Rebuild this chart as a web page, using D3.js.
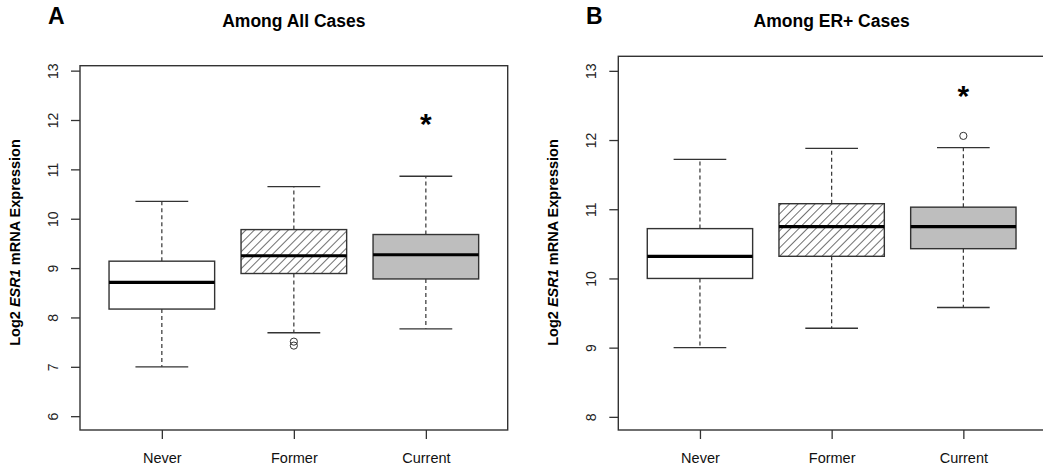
<!DOCTYPE html>
<html lang="en">
<head>
<meta charset="utf-8">
<title>ESR1 expression by smoking status</title>
<script src="https://d3js.org/d3.v7.min.js"></script>
<style>
  body { margin: 0; background: #fff; }
  svg { font-family: "Liberation Sans", Arial, sans-serif; }
</style>
</head>
<body>
<script>

// Smoking status groups
var categories = ["Never", "Former", "Current"];

// Five-number summaries: [lower whisker, Q1, median, Q3, upper whisker]
var allCasesStats = [
  [7.00, 8.17, 8.71, 9.14, 10.35],
  [7.69, 8.89, 9.25, 9.78, 10.65],
  [7.77, 8.78, 9.27, 9.68, 10.86]
];
var allCasesOutliers = [[], [7.51, 7.43], []];

var erCasesStats = [
  [9.00, 10.00, 10.32, 10.72, 11.72],
  [9.28, 10.32, 10.75, 11.08, 11.88],
  [9.58, 10.43, 10.75, 11.03, 11.89]
];
var erCasesOutliers = [[], [], [12.06]];

// y axis tick labels
var allTicks = [6, 7, 8, 9, 10, 11, 12, 13];
var erTicks = [8, 9, 10, 11, 12, 13];

// significance marker: group index and height
var allStar = { group: 2, y: 12.0 };
var erStar = { group: 2, y: 12.7 };

// box fills: plain, hatched, grey
var fills = ["#ffffff", "url(#hatch)", "#bebebe"];

var W = 1043, H = 472;
var ink = "#333";

var svg = d3.select("body")
            .append("svg")
            .attr("width", W)
            .attr("height", H);

// diagonal hatching for the "Former" boxes
var pat = svg.append("defs")
             .append("pattern")
             .attr("id", "hatch")
             .attr("patternUnits", "userSpaceOnUse")
             .attr("width", 6)
             .attr("height", 6)
             .attr("patternTransform", "rotate(45)");
pat.append("rect").attr("width", 6).attr("height", 6).attr("fill", "#fff");
pat.append("line")
   .attr("x1", 0).attr("y1", 0).attr("x2", 0).attr("y2", 6)
   .attr("stroke", "#222").attr("stroke-width", 1.3);

// panel layout (pixel geometry only)
var panels = [
  { letter: "A", title: "Among All Cases", stats: allCasesStats, outliers: allCasesOutliers,
    ticks: allTicks, star: allStar,
    left: 80, right: 507.7, top: 65.7, bottom: 430, yPad: [5.72, 13.1], letterX: 48, ylabX: 15 },
  { letter: "B", title: "Among ER+ Cases", stats: erCasesStats, outliers: erCasesOutliers,
    ticks: erTicks, star: erStar,
    left: 618.3, right: 1045, top: 56.3, bottom: 430, yPad: [7.81, 13.21], letterX: 586, ylabX: 553 }
];

panels.forEach(function(p) {

  // R style: groups at 1..n, x range padded by 4%
  var x = d3.scaleLinear().domain([0.38, 3.62]).range([p.left, p.right]);
  var y = d3.scaleLinear().domain(p.yPad).range([p.bottom, p.top]);
  var u = x(1) - x(0);   // one group unit in px

  var g = svg.append("g");

  // panel letter and title
  g.append("text")
   .attr("x", p.letterX).attr("y", 24)
   .style("font-size", "23px").style("font-weight", "bold")
   .text(p.letter);

  g.append("text")
   .attr("x", (p.left + p.right) / 2).attr("y", 27)
   .attr("text-anchor", "middle")
   .style("font-size", "17.5px").style("font-weight", "bold")
   .text(p.title);

  // y axis label with italic gene name
  var yl = g.append("text")
            .attr("transform", "translate(" + (p.ylabX + 5) + ",242.5) rotate(-90)")
            .attr("text-anchor", "middle")
            .style("font-size", "14.5px").style("font-weight", "bold");
  yl.append("tspan").text("Log2 ");
  yl.append("tspan").style("font-style", "italic").text("ESR1");
  yl.append("tspan").text(" mRNA Expression");

  // whiskers (dashed) + caps
  var boxes = g.selectAll("g.box")
               .data(p.stats)
               .enter()
               .append("g")
               .attr("class", "box");

  boxes.append("line")
       .attr("x1", function(d, i) { return x(i + 1); })
       .attr("x2", function(d, i) { return x(i + 1); })
       .attr("y1", function(d) { return y(d[3]); })
       .attr("y2", function(d) { return y(d[4]); })
       .attr("stroke", ink).attr("stroke-width", 1.2).attr("stroke-dasharray", "4,3");
  boxes.append("line")
       .attr("x1", function(d, i) { return x(i + 1); })
       .attr("x2", function(d, i) { return x(i + 1); })
       .attr("y1", function(d) { return y(d[1]); })
       .attr("y2", function(d) { return y(d[0]); })
       .attr("stroke", ink).attr("stroke-width", 1.2).attr("stroke-dasharray", "4,3");

  [0, 4].forEach(function(k) {
    boxes.append("line")
         .attr("x1", function(d, i) { return x(i + 1 - 0.2); })
         .attr("x2", function(d, i) { return x(i + 1 + 0.2); })
         .attr("y1", function(d) { return y(d[k]); })
         .attr("y2", function(d) { return y(d[k]); })
         .attr("stroke", ink).attr("stroke-width", 1.3);
  });

  // the box itself
  boxes.append("rect")
       .attr("x", function(d, i) { return x(i + 1 - 0.4); })
       .attr("width", 0.8 * u)
       .attr("y", function(d) { return y(d[3]); })
       .attr("height", function(d) { return y(d[1]) - y(d[3]); })
       .attr("fill", function(d, i) { return fills[i]; })
       .attr("stroke", ink).attr("stroke-width", 1.4);

  // median
  boxes.append("line")
       .attr("x1", function(d, i) { return x(i + 1 - 0.4); })
       .attr("x2", function(d, i) { return x(i + 1 + 0.4); })
       .attr("y1", function(d) { return y(d[2]); })
       .attr("y2", function(d) { return y(d[2]); })
       .attr("stroke", "#000").attr("stroke-width", 3.2);

  // outliers
  p.outliers.forEach(function(vals, i) {
    g.selectAll(null)
     .data(vals)
     .enter()
     .append("circle")
     .attr("cx", x(i + 1))
     .attr("cy", function(v) { return y(v); })
     .attr("r", 3.6)
     .attr("fill", "none")
     .attr("stroke", ink).attr("stroke-width", 1);
  });

  // significance asterisk
  g.append("text")
   .attr("x", x(p.star.group + 1))
   .attr("y", y(p.star.y) + 14)
   .attr("text-anchor", "middle")
   .style("font-size", "30px").style("font-weight", "bold")
   .text("*");

  // frame
  g.append("rect")
   .attr("x", p.left).attr("y", p.top)
   .attr("width", p.right - p.left).attr("height", p.bottom - p.top)
   .attr("fill", "none").attr("stroke", ink).attr("stroke-width", 1.4);

  // y axis
  var ya = g.append("g")
            .attr("transform", "translate(" + p.left + ",0)")
            .style("color", ink)
            .call(d3.axisLeft(y).tickValues(p.ticks).tickFormat(d3.format("d"))
                    .tickSize(9).tickSizeOuter(0));
  ya.select(".domain").remove();
  ya.selectAll(".tick line").attr("stroke-width", 1.3);
  ya.selectAll(".tick text")
    .attr("x", null).attr("dy", null)
    .attr("transform", "translate(-22,0) rotate(-90)")
    .attr("text-anchor", "middle")
    .style("fill", "#222")
    .style("font-size", "14px")
    .style("font-family", "'Liberation Sans', Arial, sans-serif");

  // x axis
  var xa = g.append("g")
            .attr("transform", "translate(0," + p.bottom + ")")
            .style("color", ink)
            .call(d3.axisBottom(x).tickValues([1, 2, 3])
                    .tickFormat(function(d) { return categories[d - 1]; })
                    .tickSize(9).tickSizeOuter(0));
  xa.select(".domain").remove();
  xa.selectAll(".tick line").attr("stroke-width", 1.3);
  xa.selectAll(".tick text")
    .attr("y", 33).attr("dy", null)
    .style("fill", "#111")
    .style("font-size", "14.5px")
    .style("font-family", "'Liberation Sans', Arial, sans-serif");
});

</script>
</body>
</html>
